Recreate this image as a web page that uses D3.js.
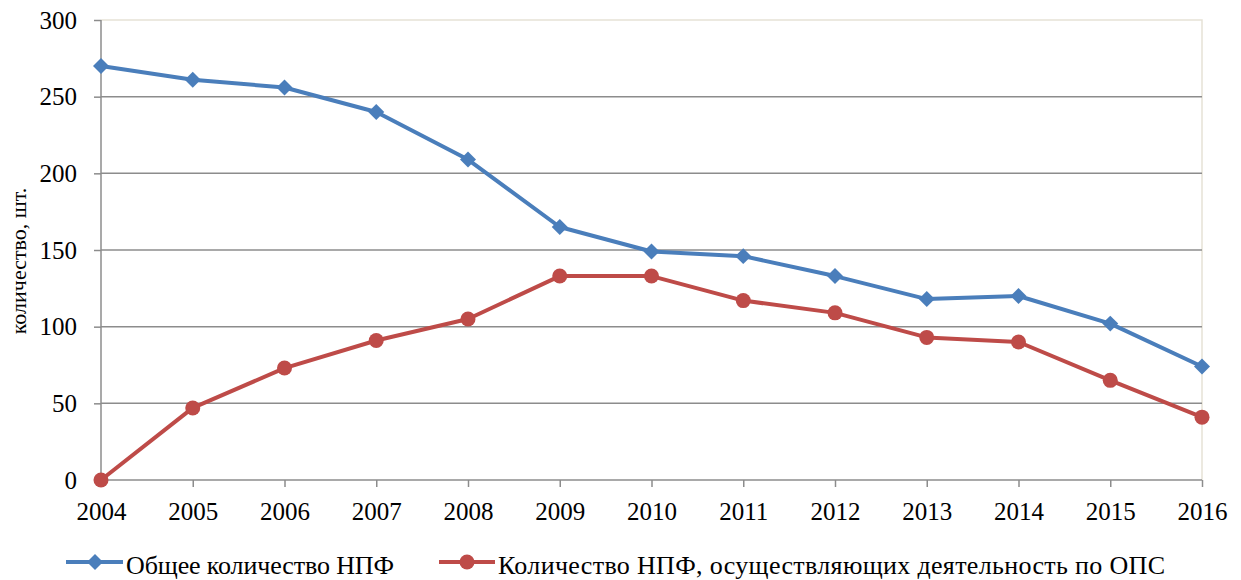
<!DOCTYPE html>
<html><head><meta charset="utf-8">
<script src="https://cdn.jsdelivr.net/npm/d3@7"></script>
</head><body style="margin:0"><svg id="c" width="1241" height="580"></svg>
<script>
const years = ["2004","2005","2006","2007","2008","2009","2010","2011","2012","2013","2014","2015","2016"];
const totalNPF = [270,261,256,240,209,165,149,146,133,118,120,102,74];
const opsNPF = [0,47,73,91,105,133,133,117,109,93,90,65,41];
const yTicks = [0,50,100,150,200,250,300];
const seriesNames = ["Общее количество НПФ","Количество НПФ, осуществляющих деятельность по ОПС"];
const yTitle = "количество, шт.";

const FONT = "Liberation Serif";
const svg = d3.select("#c");
const L=101,R=1202,T=20,B=480;
const x = d3.scalePoint().domain(years).range([L,R]);
const y = d3.scaleLinear().domain([0,300]).range([B,T]);

svg.append("path").attr("d",`M${L},${T}H${R}V${B}`).attr("fill","none").attr("stroke","#e6e2d6").attr("stroke-width",1.5);
svg.append("g").selectAll("line").data(yTicks.filter(d=>d>0&&d<300)).join("line")
  .attr("x1",L).attr("x2",R).attr("y1",d=>y(d)).attr("y2",d=>y(d))
  .attr("stroke","#8c8c8c").attr("stroke-width",1.5);

const ya = svg.append("g").attr("transform",`translate(${L},0)`)
  .call(d3.axisLeft(y).tickValues(yTicks).tickSize(7).tickPadding(17));
ya.attr("font-family",FONT).attr("font-size",25);
ya.select(".domain").attr("stroke","#8c8c8c").attr("stroke-width",1.5).attr("d",`M0,${T}V${B}`);
ya.selectAll(".tick line").attr("stroke","#8c8c8c").attr("stroke-width",1.5);
ya.selectAll("text").attr("fill","#000").attr("font-family",FONT).attr("font-size",25).attr("dy","0.33em");

const xa = svg.append("g").attr("transform",`translate(0,${B})`)
  .call(d3.axisBottom(x).tickSize(7).tickPadding(15));
xa.attr("font-family",FONT).attr("font-size",25);
xa.select(".domain").attr("stroke","#8c8c8c").attr("stroke-width",1.5).attr("d",`M${L},0H${R}`);
xa.selectAll(".tick line").attr("stroke","#8c8c8c").attr("stroke-width",1.5);
xa.selectAll("text").attr("fill","#000").attr("font-family",FONT).attr("font-size",25);

svg.append("text").attr("transform","translate(26,261) rotate(-90)").attr("text-anchor","middle")
  .attr("font-family",FONT).attr("font-size",22).attr("fill","#000").text(yTitle);

const line = d3.line().x((d,i)=>x(years[i])).y(d=>y(d));
const blue="#4a7ebb", red="#be4b48";
svg.append("path").datum(totalNPF).attr("d",line).attr("fill","none").attr("stroke",blue).attr("stroke-width",4).attr("stroke-linejoin","round");
svg.append("path").datum(opsNPF).attr("d",line).attr("fill","none").attr("stroke",red).attr("stroke-width",4).attr("stroke-linejoin","round");
const diamond = d3.symbol().type(d3.symbolDiamond2).size(162);
svg.append("g").selectAll("path").data(totalNPF).join("path")
  .attr("d",diamond).attr("transform",(d,i)=>`translate(${x(years[i])},${y(d)})`).attr("fill",blue);
svg.append("g").selectAll("circle").data(opsNPF).join("circle")
  .attr("cx",(d,i)=>x(years[i])).attr("cy",d=>y(d)).attr("r",7.5).attr("fill",red);

const ly=562;
const lg = svg.append("g");
lg.append("line").attr("x1",66).attr("x2",123).attr("y1",ly).attr("y2",ly).attr("stroke",blue).attr("stroke-width",4);
lg.append("path").attr("d",diamond).attr("transform",`translate(95,${ly})`).attr("fill",blue);
lg.append("text").attr("x",126).attr("y",574).attr("font-family",FONT).attr("font-size",26).attr("fill","#000")
  .attr("textLength",268).attr("lengthAdjust","spacing").text(seriesNames[0]);
lg.append("line").attr("x1",439).attr("x2",495).attr("y1",ly).attr("y2",ly).attr("stroke",red).attr("stroke-width",4);
lg.append("circle").attr("cx",467).attr("cy",ly).attr("r",7.5).attr("fill",red);
lg.append("text").attr("x",498).attr("y",574).attr("font-family",FONT).attr("font-size",26).attr("fill","#000")
  .attr("textLength",667).attr("lengthAdjust","spacing").text(seriesNames[1]);
</script></body></html>
